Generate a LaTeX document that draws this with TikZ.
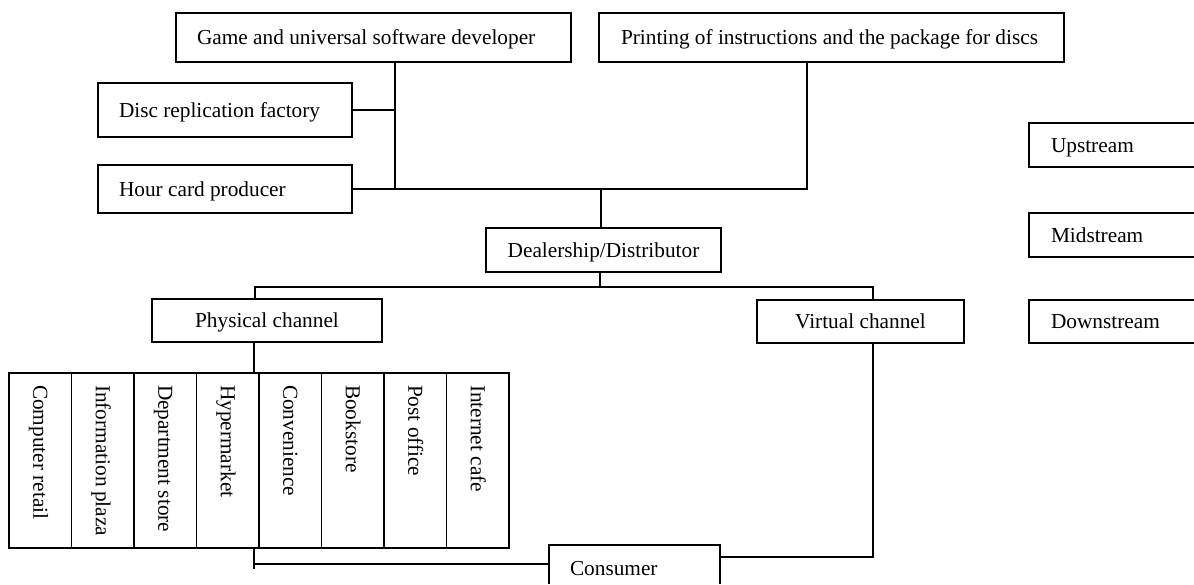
\documentclass[tikz,border=0pt]{standalone}
\usepackage{fontspec}
\setmainfont{Liberation Serif}
\newcommand\mytxt[2]{\hbox to #1pt{#2\hfil}}
\begin{document}
\begin{tikzpicture}[x=1pt,y=-1pt, line width=1.2pt,
  every node/.style={font=\fontsize{21.3}{25}\selectfont, outer sep=0pt},
  bx/.style={draw, anchor=north west, inner ysep=0pt, text height=14pt, text depth=0pt},
  bc/.style={bx, inner xsep=0pt},
  ob/.style={anchor=north west, inner ysep=0pt, text height=14pt, text depth=0pt},
  col/.style={draw, rotate=-90, minimum width=175pt, minimum height=62.5pt, inner xsep=12pt, inner ysep=0pt, text height=14pt, text depth=0pt}]
\useasboundingbox (0,0) rectangle (1194,584);

% boxes
\node[bx, inner xsep=21pt, minimum height=49pt] (game) at (176,13) {\mytxt{353}{Game and universal software developer}};
\node[bx, inner xsep=22pt, minimum height=49pt] (print) at (599,13) {\mytxt{421}{Printing of instructions and the package for discs}};
\node[bx, inner xsep=21pt, minimum height=54pt] (disc) at (98,83) {\mytxt{212}{Disc replication factory}};
\node[bx, inner xsep=21pt, minimum height=48pt] (hour) at (98,165) {\mytxt{212}{Hour card producer}};
\node[bc, minimum width=235pt, minimum height=44pt] (dealer) at (486,228) {Dealership/Distributor};
\node[bc, minimum width=230pt, minimum height=43pt] (phys) at (152,299) {Physical channel};
\node[bc, minimum width=207pt, minimum height=43pt] (virt) at (757,300) {Virtual channel};

% stream labels (cut off at the right edge)
\node[ob, inner xsep=22pt, minimum height=44pt] (up) at (1029,123) {\mytxt{121}{Upstream}};
\node[ob, inner xsep=22pt, minimum height=44pt] (mid) at (1029,213) {\mytxt{121}{Midstream}};
\node[ob, inner xsep=22pt, minimum height=43pt] (down) at (1029,300) {\mytxt{121}{Downstream}};
\foreach \n in {up,mid,down}
  \draw (\n.north east) -- (\n.north west) -- (\n.south west) -- (\n.south east);

% consumer (cut off at the bottom edge)
\node[ob, inner xsep=21pt, minimum height=46pt] (cons) at (549,545) {\mytxt{129}{Consumer}};
\coordinate (bot) at (0,584);
\draw (cons.west |- bot) -- (cons.north west) -- (cons.north east) -- (cons.east |- bot);

% retail columns
\node[col] (c1) at (40.25,460.5) {\mytxt{151}{Computer retail}};
\node[col] (c2) at (102.75,460.5) {\mytxt{151}{Information plaza}};
\node[col] (c3) at (165.25,460.5) {\mytxt{151}{Department store}};
\node[col] (c4) at (227.75,460.5) {\mytxt{151}{Hypermarket}};
\node[col] (c5) at (290.25,460.5) {\mytxt{151}{Convenience}};
\node[col] (c6) at (352.75,460.5) {\mytxt{151}{Bookstore}};
\node[col] (c7) at (415.25,460.5) {\mytxt{151}{Post office}};
\node[col] (c8) at (477.75,460.5) {\mytxt{151}{Internet cafe}};

% connectors
\coordinate (j1) at (395,189);
\coordinate (j2) at (807,189);
\coordinate (j3) at (601,189);
\draw (game.south -| j1) -- (j1);
\draw (disc.east) -- (disc.east -| j1);
\draw (hour.east) -- (j1) -- (j2) -- (print.south -| j2);
\draw (j3) -- (dealer.north -| j3);
\coordinate (k0) at (600,287);
\coordinate (kl) at (255,287);
\coordinate (kr) at (873,287);
\draw (dealer.south -| k0) -- (k0);
\draw (phys.north -| kl) -- (kl) -- (kr) -- (virt.north -| kr);
\coordinate (ct) at (254,373);
\coordinate (cb) at (254,548);
\coordinate (ck) at (254,569);
\coordinate (cl) at (254,564);
\draw (phys.south -| ct) -- (ct);
\draw (cb) -- (ck);
\draw (cl) -- (cl -| cons.west);
\coordinate (vr) at (873,557);
\draw (virt.south -| vr) -- (vr) -- (vr -| cons.east);
\end{tikzpicture}
\end{document}
